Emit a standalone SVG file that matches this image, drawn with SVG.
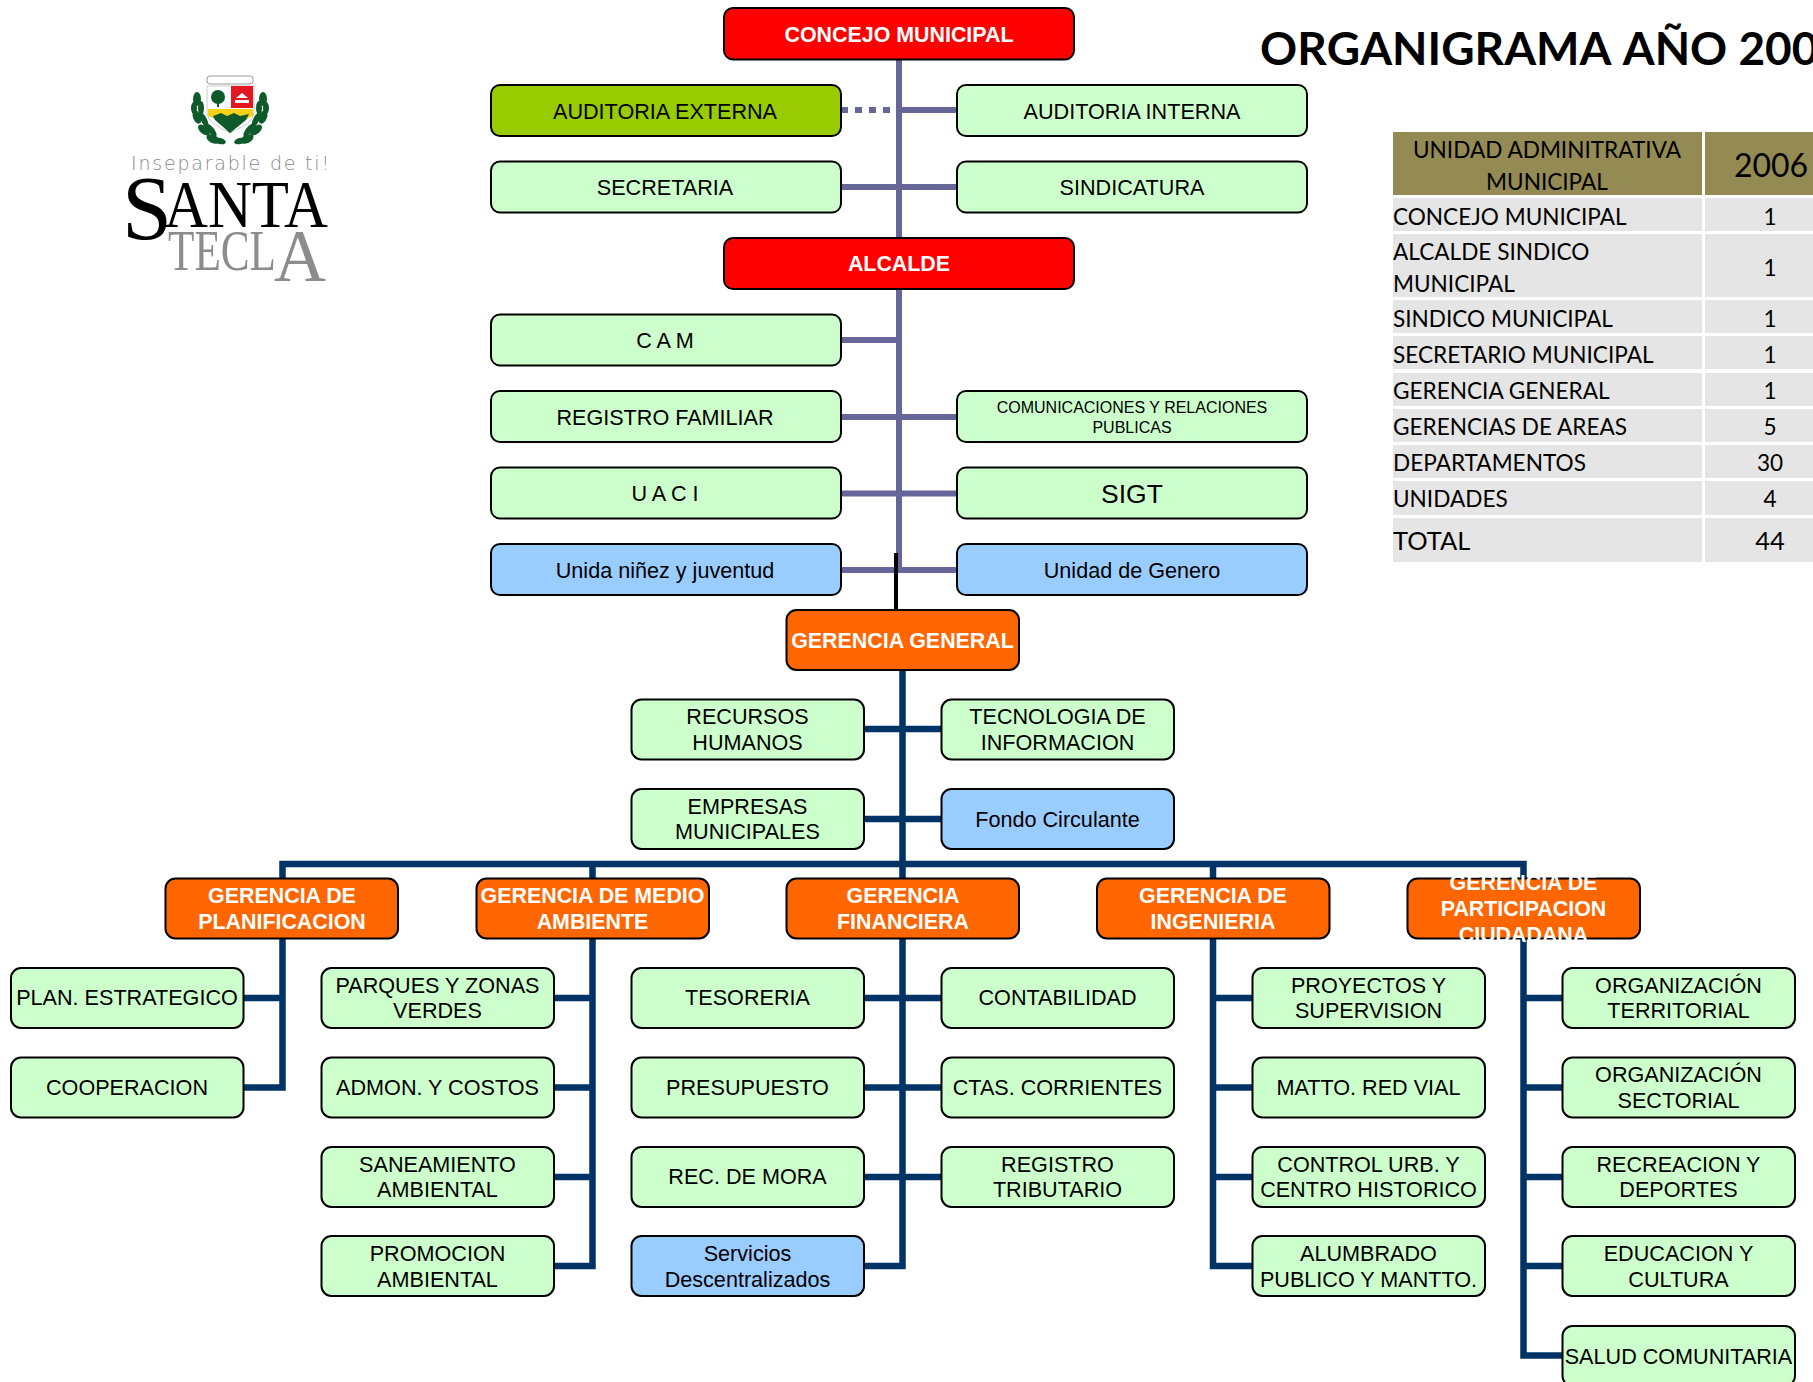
<svg xmlns="http://www.w3.org/2000/svg" xmlns:xlink="http://www.w3.org/1999/xlink" width="1813" height="1382" viewBox="0 0 1813 1382">
<style>
text{font-family:"Liberation Sans",Arial,sans-serif;text-anchor:middle;font-size:21.6px;fill:#000}
.box{stroke:#000;stroke-width:2px}
.g{fill:#CCFFCC}.r{fill:#FF0000}.o{fill:#FF6600}.l{fill:#99CC00}.b{fill:#99CCFF}
.w{font-weight:bold;fill:#fff;font-size:21.4px}
.p{fill:none;stroke:#666699;stroke-width:6px}
.n{fill:none;stroke:#003366;stroke-width:6.5px;stroke-linejoin:miter}
.t{font-family:Lato,"Open Sans",sans-serif;font-size:22.6px;text-anchor:start}
.c{font-family:Lato,"Open Sans",sans-serif;font-size:22.6px}
.h{fill:#948A54}.e{fill:#E5E5E5}
.leaf{fill:#0E5A2A}
</style>
<g id="connectors">
<path class="p" d="M899 60V573M899 110H957M899 187H841M899 187H957M899 340H841M899 417H841M899 417H957M899 493.500H841M899 493.500H957M899 570H841M899 570H957"/>
<path class="p" d="M841 110H897" stroke-dasharray="7 7"/>
<path d="M896 553V610" fill="none" stroke="#000" stroke-width="4"/>
<path class="n" d="M902.500 671V1266H864M864 729H941M864 819H941M282.500 878V864H1523.500V878M592.500 864V878M902.500 864V878M1213 864V878"/>
<path class="n" d="M282.500 939V1087.500H244M244 998H282.500"/>
<path class="n" d="M592.500 939V1266H554M554 998H592.500M554 1087.500H592.500M554 1177H592.500"/>
<path class="n" d="M864 998H941M864 1087.500H941M864 1177H941"/>
<path class="n" d="M1213 939V1266H1252M1213 998H1252M1213 1087.500H1252M1213 1177H1252"/>
<path class="n" d="M1523.500 939V1355.500H1562M1523.500 998H1562M1523.500 1087.500H1562M1523.500 1177H1562M1523.500 1266H1562"/>
</g>
<g id="logo">
<g id="logo-crest">
<rect x="207" y="76" width="46" height="8" rx="3" fill="#fff" stroke="#999" stroke-width="1"/>
<path d="M207 86H254V112C254 122 240 128 230 133C220 128 207 122 207 112Z" fill="#fff" stroke="#ccc" stroke-width="1"/>
<rect x="231" y="86" width="22" height="22" fill="#E3171F"/>
<path d="M235 100H249V103H235ZM236 98L242 93L248 98Z" fill="#fff"/>
<path d="M208 109H253V116L246 119H215L208 116Z" fill="#F5D218"/>
<path d="M213 116L221 113L227 116L234 113L240 116L249 114L246 120L230 133L215 120Z" fill="#0E5A2A"/>
<circle cx="218" cy="97" r="7" fill="#0E5A2A"/><rect x="217" y="100" width="2" height="7" fill="#0E5A2A"/>
<g class="leaf">
<ellipse cx="197" cy="99" rx="4" ry="7"/><ellipse cx="194" cy="108" rx="3" ry="6"/><ellipse cx="201" cy="108" rx="3" ry="7"/><ellipse cx="197" cy="117" rx="4" ry="7" transform="rotate(-20 197 117)"/><ellipse cx="204" cy="120" rx="3" ry="8" transform="rotate(-25 204 120)"/><ellipse cx="204" cy="130" rx="4" ry="7" transform="rotate(-50 204 130)"/><ellipse cx="211" cy="130" rx="3" ry="8" transform="rotate(-40 211 130)"/><ellipse cx="213" cy="139" rx="4" ry="7" transform="rotate(-65 213 139)"/><ellipse cx="220" cy="141" rx="3" ry="6" transform="rotate(-75 220 141)"/>
<ellipse cx="263" cy="99" rx="4" ry="7"/><ellipse cx="266" cy="108" rx="3" ry="6"/><ellipse cx="259" cy="108" rx="3" ry="7"/><ellipse cx="263" cy="117" rx="4" ry="7" transform="rotate(20 263 117)"/><ellipse cx="256" cy="120" rx="3" ry="8" transform="rotate(25 256 120)"/><ellipse cx="256" cy="130" rx="4" ry="7" transform="rotate(50 256 130)"/><ellipse cx="249" cy="130" rx="3" ry="8" transform="rotate(40 249 130)"/><ellipse cx="247" cy="139" rx="4" ry="7" transform="rotate(65 247 139)"/><ellipse cx="240" cy="141" rx="3" ry="6" transform="rotate(75 240 141)"/>
</g>
</g>
<text x="131" y="170" textLength="198" lengthAdjust="spacing" style="text-anchor:start;font-family:'DejaVu Sans',sans-serif;font-size:19px;font-weight:200;fill:#8a8a8a">Inseparable de ti!</text>
<text x="122" y="239" style="text-anchor:start;font-family:'Liberation Serif',serif;font-size:90px">S</text>
<text x="164" y="227" textLength="164" lengthAdjust="spacingAndGlyphs" style="text-anchor:start;font-family:'Liberation Serif',serif;font-size:68px">ANTA</text>
<text x="168" y="270" textLength="108" lengthAdjust="spacingAndGlyphs" style="text-anchor:start;font-family:'Liberation Serif',serif;font-size:56px;fill:#8c8c8c">TECL</text>
<text x="274" y="281" textLength="52" lengthAdjust="spacingAndGlyphs" style="text-anchor:start;font-family:'Liberation Serif',serif;font-size:74px;fill:#8c8c8c">A</text>
</g>
<text id="title" x="1260" y="65" style="text-anchor:start;font-family:Lato,'Open Sans',sans-serif;font-size:46px;font-weight:bold;font-kerning:none">ORGANIGRAMA AÑO 200</text>
<g id="table">
<rect class="h" x="1393" y="132" width="309" height="63"/><rect class="h" x="1705" y="132" width="108" height="63"/>
<text class="c" x="1547" y="158">UNIDAD ADMINITRATIVA</text><text class="c" x="1547" y="190">MUNICIPAL</text>
<text class="c" x="1771" y="177" style="font-size:32px">2006</text>
<rect class="e" x="1393" y="198" width="309" height="33"/><rect class="e" x="1705" y="198" width="108" height="33"/>
<text class="t" x="1393" y="225">CONCEJO MUNICIPAL</text><text class="c" x="1770" y="225">1</text>
<rect class="e" x="1393" y="234" width="309" height="63"/><rect class="e" x="1705" y="234" width="108" height="63"/>
<text class="t" x="1393" y="260">ALCALDE SINDICO</text><text class="t" x="1393" y="292">MUNICIPAL</text><text class="c" x="1770" y="276">1</text>
<rect class="e" x="1393" y="300" width="309" height="33"/><rect class="e" x="1705" y="300" width="108" height="33"/>
<text class="t" x="1393" y="327">SINDICO MUNICIPAL</text><text class="c" x="1770" y="327">1</text>
<rect class="e" x="1393" y="336" width="309" height="33"/><rect class="e" x="1705" y="336" width="108" height="33"/>
<text class="t" x="1393" y="363">SECRETARIO MUNICIPAL</text><text class="c" x="1770" y="363">1</text>
<rect class="e" x="1393" y="373" width="309" height="33"/><rect class="e" x="1705" y="373" width="108" height="33"/>
<text class="t" x="1393" y="399">GERENCIA GENERAL</text><text class="c" x="1770" y="399">1</text>
<rect class="e" x="1393" y="409" width="309" height="33"/><rect class="e" x="1705" y="409" width="108" height="33"/>
<text class="t" x="1393" y="435">GERENCIAS DE AREAS</text><text class="c" x="1770" y="435">5</text>
<rect class="e" x="1393" y="445" width="309" height="33"/><rect class="e" x="1705" y="445" width="108" height="33"/>
<text class="t" x="1393" y="471">DEPARTAMENTOS</text><text class="c" x="1770" y="471">30</text>
<rect class="e" x="1393" y="481" width="309" height="34"/><rect class="e" x="1705" y="481" width="108" height="34"/>
<text class="t" x="1393" y="507">UNIDADES</text><text class="c" x="1770" y="507">4</text>
<rect class="e" x="1393" y="518" width="309" height="44"/><rect class="e" x="1705" y="518" width="108" height="44"/>
<text class="t" x="1393" y="550" style="font-size:25.500px">TOTAL</text><text class="c" x="1770" y="550" style="font-size:25.500px">44</text>
</g>
<g id="concejo"><rect class="box r" x="724" y="8" width="350" height="51.500" rx="9"/><text class="w" x="899" y="41.500">CONCEJO MUNICIPAL</text></g>
<g id="aud-ext"><rect class="box l" x="491" y="85" width="350" height="51" rx="9"/><text x="665" y="119">AUDITORIA EXTERNA</text></g>
<g id="aud-int"><rect class="box g" x="957" y="85" width="350" height="51" rx="9"/><text x="1132" y="119">AUDITORIA INTERNA</text></g>
<g id="secretaria"><rect class="box g" x="491" y="161.500" width="350" height="51" rx="9"/><text x="665" y="195">SECRETARIA</text></g>
<g id="sindicatura"><rect class="box g" x="957" y="161.500" width="350" height="51" rx="9"/><text x="1132" y="195">SINDICATURA</text></g>
<g id="alcalde"><rect class="box r" x="724" y="238" width="350" height="51" rx="9"/><text class="w" x="899" y="271">ALCALDE</text></g>
<g id="cam"><rect class="box g" x="491" y="314.500" width="350" height="51" rx="9"/><text x="665" y="348">C A M</text></g>
<g id="registro"><rect class="box g" x="491" y="391" width="350" height="51" rx="9"/><text x="665" y="425">REGISTRO FAMILIAR</text></g>
<g id="comunicaciones"><rect class="box g" x="957" y="391" width="350" height="51" rx="9"/><text x="1132" y="413" style="font-size:16px">COMUNICACIONES Y RELACIONES</text><text x="1132" y="433" style="font-size:16px">PUBLICAS</text></g>
<g id="uaci"><rect class="box g" x="491" y="467.500" width="350" height="51" rx="9"/><text x="665" y="500.500">U A C I</text></g>
<g id="sigt"><rect class="box g" x="957" y="467.500" width="350" height="51" rx="9"/><text x="1132" y="502.500" style="font-size:26.500px">SIGT</text></g>
<g id="ninez"><rect class="box b" x="491" y="544" width="350" height="51" rx="9"/><text x="665" y="578">Unida niñez y juventud</text></g>
<g id="genero"><rect class="box b" x="957" y="544" width="350" height="51" rx="9"/><text x="1132" y="578">Unidad de Genero</text></g>
<g id="gerencia-general"><rect class="box o" x="786.500" y="610" width="232.500" height="60" rx="10"/><text class="w" x="902.500" y="648">GERENCIA GENERAL</text></g>
<g id="rrhh"><rect class="box g" x="631.500" y="699.500" width="232.500" height="60" rx="10"/><text x="747.500" y="724">RECURSOS</text><text x="747.500" y="750">HUMANOS</text></g>
<g id="tecnologia"><rect class="box g" x="941.500" y="699.500" width="232.500" height="60" rx="10"/><text x="1057.500" y="724">TECNOLOGIA DE</text><text x="1057.500" y="750">INFORMACION</text></g>
<g id="empresas"><rect class="box g" x="631.500" y="789" width="232.500" height="60" rx="10"/><text x="747.500" y="814">EMPRESAS</text><text x="747.500" y="839">MUNICIPALES</text></g>
<g id="fondo"><rect class="box b" x="941.500" y="789" width="232.500" height="60" rx="10"/><text x="1057.500" y="827">Fondo Circulante</text></g>
<g id="g-planificacion"><rect class="box o" x="165.500" y="878.500" width="232.500" height="60" rx="10"/><text class="w" x="282" y="903">GERENCIA DE</text><text class="w" x="282" y="929">PLANIFICACION</text></g>
<g id="g-ambiente"><rect class="box o" x="476.500" y="878.500" width="232.500" height="60" rx="10"/><text class="w" x="592.500" y="903">GERENCIA DE MEDIO</text><text class="w" x="592.500" y="929">AMBIENTE</text></g>
<g id="g-financiera"><rect class="box o" x="786.500" y="878.500" width="232.500" height="60" rx="10"/><text class="w" x="903" y="903">GERENCIA</text><text class="w" x="903" y="929">FINANCIERA</text></g>
<g id="g-ingenieria"><rect class="box o" x="1097" y="878.500" width="232.500" height="60" rx="10"/><text class="w" x="1213" y="903">GERENCIA DE</text><text class="w" x="1213" y="929">INGENIERIA</text></g>
<g id="g-participacion"><rect class="box o" x="1407.500" y="878.500" width="232.500" height="60" rx="10"/><text class="w" x="1523.500" y="890">GERENCIA DE</text><text class="w" x="1523.500" y="916">PARTICIPACION</text><text class="w" x="1523.500" y="942">CIUDADANA</text></g>
<g id="plan"><rect class="box g" x="11" y="968" width="232.500" height="60" rx="10"/><text x="127" y="1005">PLAN. ESTRATEGICO</text></g>
<g id="cooperacion"><rect class="box g" x="11" y="1057.500" width="232.500" height="60" rx="10"/><text x="127" y="1095">COOPERACION</text></g>
<g id="parques"><rect class="box g" x="321.500" y="968" width="232.500" height="60" rx="10"/><text x="437.500" y="993">PARQUES Y ZONAS</text><text x="437.500" y="1018">VERDES</text></g>
<g id="admon"><rect class="box g" x="321.500" y="1057.500" width="232.500" height="60" rx="10"/><text x="437.500" y="1095">ADMON. Y COSTOS</text></g>
<g id="saneamiento"><rect class="box g" x="321.500" y="1147" width="232.500" height="60" rx="10"/><text x="437.500" y="1172">SANEAMIENTO</text><text x="437.500" y="1197">AMBIENTAL</text></g>
<g id="promocion"><rect class="box g" x="321.500" y="1236" width="232.500" height="60" rx="10"/><text x="437.500" y="1261">PROMOCION</text><text x="437.500" y="1287">AMBIENTAL</text></g>
<g id="tesoreria"><rect class="box g" x="631.500" y="968" width="232.500" height="60" rx="10"/><text x="747.500" y="1005">TESORERIA</text></g>
<g id="presupuesto"><rect class="box g" x="631.500" y="1057.500" width="232.500" height="60" rx="10"/><text x="747.500" y="1095">PRESUPUESTO</text></g>
<g id="mora"><rect class="box g" x="631.500" y="1147" width="232.500" height="60" rx="10"/><text x="747.500" y="1184">REC. DE MORA</text></g>
<g id="servicios"><rect class="box b" x="631.500" y="1236" width="232.500" height="60" rx="10"/><text x="747.500" y="1261">Servicios</text><text x="747.500" y="1287">Descentralizados</text></g>
<g id="contabilidad"><rect class="box g" x="941.500" y="968" width="232.500" height="60" rx="10"/><text x="1057.500" y="1005">CONTABILIDAD</text></g>
<g id="ctas"><rect class="box g" x="941.500" y="1057.500" width="232.500" height="60" rx="10"/><text x="1057.500" y="1095">CTAS. CORRIENTES</text></g>
<g id="reg-tributario"><rect class="box g" x="941.500" y="1147" width="232.500" height="60" rx="10"/><text x="1057.500" y="1172">REGISTRO</text><text x="1057.500" y="1197">TRIBUTARIO</text></g>
<g id="proyectos"><rect class="box g" x="1252.500" y="968" width="232.500" height="60" rx="10"/><text x="1368.500" y="993">PROYECTOS Y</text><text x="1368.500" y="1018">SUPERVISION</text></g>
<g id="matto"><rect class="box g" x="1252.500" y="1057.500" width="232.500" height="60" rx="10"/><text x="1368.500" y="1095">MATTO. RED VIAL</text></g>
<g id="control"><rect class="box g" x="1252.500" y="1147" width="232.500" height="60" rx="10"/><text x="1368.500" y="1172">CONTROL URB. Y</text><text x="1368.500" y="1197">CENTRO HISTORICO</text></g>
<g id="alumbrado"><rect class="box g" x="1252.500" y="1236" width="232.500" height="60" rx="10"/><text x="1368.500" y="1261">ALUMBRADO</text><text x="1368.500" y="1287">PUBLICO Y MANTTO.</text></g>
<g id="org-territorial"><rect class="box g" x="1562.500" y="968" width="232.500" height="60" rx="10"/><text x="1678.500" y="993">ORGANIZACIÓN</text><text x="1678.500" y="1018">TERRITORIAL</text></g>
<g id="org-sectorial"><rect class="box g" x="1562.500" y="1057.500" width="232.500" height="60" rx="10"/><text x="1678.500" y="1082">ORGANIZACIÓN</text><text x="1678.500" y="1108">SECTORIAL</text></g>
<g id="recreacion"><rect class="box g" x="1562.500" y="1147" width="232.500" height="60" rx="10"/><text x="1678.500" y="1172">RECREACION Y</text><text x="1678.500" y="1197">DEPORTES</text></g>
<g id="educacion"><rect class="box g" x="1562.500" y="1236" width="232.500" height="60" rx="10"/><text x="1678.500" y="1261">EDUCACION Y</text><text x="1678.500" y="1287">CULTURA</text></g>
<g id="salud"><rect class="box g" x="1562.500" y="1326" width="232.500" height="60" rx="10"/><text x="1678.500" y="1364">SALUD COMUNITARIA</text></g>
</svg>
